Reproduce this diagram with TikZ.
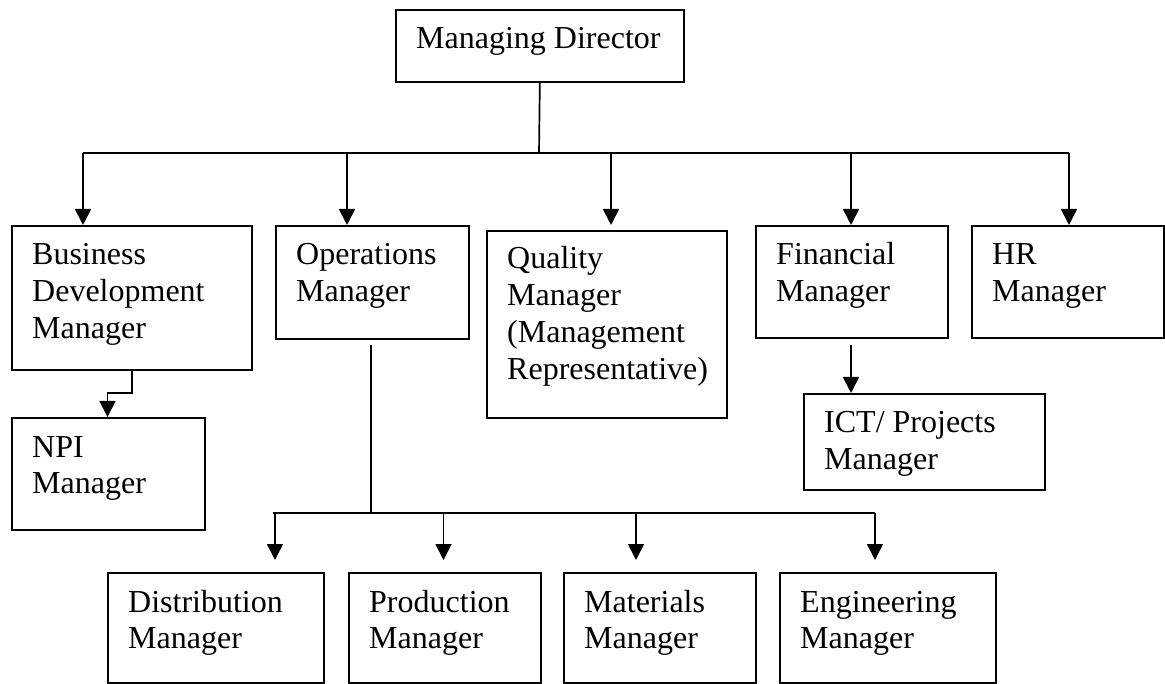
\documentclass[tikz,border=0pt]{standalone}
\usepackage{fontspec}
\setmainfont{Liberation Serif}
\usetikzlibrary{arrows.meta}
\begin{document}
\begin{tikzpicture}[x=1pt,y=-1pt,
  box/.style={draw, line width=1.7pt, inner sep=0pt, anchor=north west},
  lbl/.style={anchor=base west, inner sep=0pt, font=\fontsize{32}{36.7}\selectfont},
  conn/.style={line width=1.7pt},
  arr/.style={line width=1.7pt, -{Triangle[width=16pt,length=16pt]}}]
\useasboundingbox (0,0) rectangle (1165,684);
% boxes
\node[box, minimum width=288pt, minimum height=72pt] (md) at (395,9) {};
\node[box, minimum width=240pt, minimum height=144pt] (bdm) at (11,225) {};
\node[box, minimum width=193pt, minimum height=113pt] (ops) at (275,225) {};
\node[box, minimum width=240pt, minimum height=187pt] (qm) at (486,230) {};
\node[box, minimum width=192pt, minimum height=112pt] (fm) at (755,225) {};
\node[box, minimum width=192pt, minimum height=112pt] (hr) at (971,225) {};
\node[box, minimum width=193pt, minimum height=112pt] (npi) at (11,417) {};
\node[box, minimum width=241pt, minimum height=96pt] (ict) at (803,393) {};
\node[box, minimum width=216pt, minimum height=110pt] (dm) at (107,572) {};
\node[box, minimum width=192pt, minimum height=110pt] (pm) at (348,572) {};
\node[box, minimum width=192pt, minimum height=110pt] (mm) at (563,572) {};
\node[box, minimum width=216pt, minimum height=110pt] (em) at (779,572) {};
% labels
\node[lbl] (mdt) at (416,49) {Managing Director};
\node[lbl] (bdmt) at (32,265) {\begin{tabular}[t]{@{}l@{}}Business\\Development\\Manager\end{tabular}};
\node[lbl] (opst) at (296,265) {\begin{tabular}[t]{@{}l@{}}Operations\\Manager\end{tabular}};
\node[lbl] (qmt) at (507,269) {\begin{tabular}[t]{@{}l@{}}Quality\\Manager\\(Management\\Representative)\end{tabular}};
\node[lbl] (fmt) at (776,265) {\begin{tabular}[t]{@{}l@{}}Financial\\Manager\end{tabular}};
\node[lbl] (hrt) at (992,265) {\begin{tabular}[t]{@{}l@{}}HR\\Manager\end{tabular}};
\node[lbl] (npit) at (32,457) {\begin{tabular}[t]{@{}l@{}}NPI\\Manager\end{tabular}};
\node[lbl] (ictt) at (824,433) {\begin{tabular}[t]{@{}l@{}}ICT/ Projects\\Manager\end{tabular}};
\node[lbl] (dmt) at (128,612) {\begin{tabular}[t]{@{}l@{}}Distribution\\Manager\end{tabular}};
\node[lbl] (pmt) at (369,612) {\begin{tabular}[t]{@{}l@{}}Production\\Manager\end{tabular}};
\node[lbl] (mmt) at (584,612) {\begin{tabular}[t]{@{}l@{}}Materials\\Manager\end{tabular}};
\node[lbl] (emt) at (800,612) {\begin{tabular}[t]{@{}l@{}}Engineering\\Manager\end{tabular}};
% top level connectors
\coordinate (t0) at (539,153);
\coordinate (tl) at (83,153);
\coordinate (tr) at (1069,153);
\coordinate (tops) at (347,153);
\coordinate (tq) at (611,153);
\coordinate (qa) at (611,225);
\coordinate (tf) at (851,153);
\draw[conn] (md.south) -- (t0);
\draw[conn] (tl) -- (tr);
\draw[arr] (tl) -- (tl |- bdm.north);
\draw[arr] (tops) -- (tops |- ops.north);
\draw[arr] (tq) -- (qa);
\draw[arr] (tf) -- (tf |- fm.north);
\draw[arr] (tr) -- (tr |- hr.north);
% BDM -> NPI
\coordinate (nk) at (107.5,393);
\draw[arr] (bdm.south) |- (nk) -- (nk |- npi.north);
% Financial -> ICT
\coordinate (f1) at (851,345);
\draw[arr] (f1) -- (f1 |- ict.north);
% Operations -> bottom row
\coordinate (o1) at (371,345);
\coordinate (o2) at (371,513);
\coordinate (bl) at (273,513);
\coordinate (br) at (875,513);
\coordinate (b1) at (275,513);
\coordinate (b2) at (443.5,513);
\coordinate (b3) at (636,513);
\draw[conn] (o1) -- (o2);
\draw[conn] (bl) -- (br);
\draw[arr] (b1) -- ++(0,47);
\draw[arr] (b2) -- ++(0,47);
\draw[arr] (b3) -- ++(0,47);
\draw[arr] (br) -- ++(0,47);
\end{tikzpicture}
\end{document}
